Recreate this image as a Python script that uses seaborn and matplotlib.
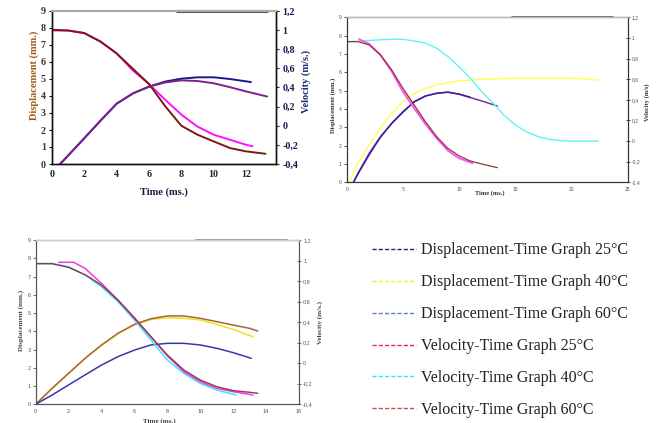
import matplotlib
matplotlib.use("Agg")
import matplotlib.pyplot as plt
from matplotlib.lines import Line2D
import seaborn as sns

sns.set_theme(style="white")
plt.rcParams['font.family'] = ['Liberation Serif', 'DejaVu Serif']

# ---------------- data ----------------
# Panel 1 (top-left)
p1_fall_mag_t = [0, 1, 2, 3, 4, 5, 6, 7, 8, 9, 10, 11, 12, 12.4]
p1_fall_mag_v = [0.996, 0.996, 0.969, 0.88, 0.756, 0.578, 0.436, 0.272, 0.116, -0.009, -0.094, -0.146, -0.199, -0.215]
p1_fall_brn_t = [0, 1, 2, 3, 4, 5, 6, 7, 8, 9, 10, 11, 12, 13.2]
p1_fall_brn_v = [1.004, 0.996, 0.969, 0.88, 0.756, 0.596, 0.436, 0.204, 0.0, -0.094, -0.164, -0.233, -0.268, -0.293]
p1_rise_pur_t = [0.5, 1, 2, 3, 4, 5, 6, 7, 8, 9, 10, 11, 12, 13.3]
p1_rise_pur_d = [0, 0.5, 1.52, 2.55, 3.55, 4.15, 4.55, 4.8, 4.92, 4.88, 4.75, 4.52, 4.27, 3.97]
p1_rise_nav_t = [0.5, 1, 2, 3, 4, 5, 6, 7, 8, 9, 10, 11, 12.3]
p1_rise_nav_d = [0, 0.5, 1.52, 2.55, 3.55, 4.15, 4.55, 4.85, 5.02, 5.1, 5.1, 5.0, 4.82]

# Panel 2 (top-right)
p2_cyan_t = [0, 1, 2, 3, 4, 4.5, 5, 6, 7, 8, 9, 10, 11, 12, 13, 14, 15, 16, 17, 18, 19, 20, 21, 22.4]
p2_cyan_v = [0.964, 0.968, 0.975, 0.982, 0.987, 0.988, 0.987, 0.97, 0.95, 0.90, 0.82, 0.72, 0.61, 0.48,
             0.37, 0.25, 0.156, 0.09, 0.043, 0.017, 0.004, 0.0, 0.0, 0.0]
p2_yel_t = [0.2, 1, 2, 3, 4, 5, 6, 7, 8, 9, 10, 12, 15, 18, 20, 21, 22.4]
p2_yel_d = [0, 1.04, 2.04, 2.95, 3.76, 4.4, 4.85, 5.13, 5.31, 5.44, 5.53, 5.62, 5.67, 5.69, 5.67, 5.64, 5.58]
p2_brn_t = [0, 1, 2, 3, 4, 5, 6, 7, 8, 9, 10, 11, 12, 13.4]
p2_brn_v = [0.964, 0.964, 0.932, 0.836, 0.690, 0.512, 0.350, 0.188, 0.043, -0.071, -0.144, -0.194, -0.222, -0.258]
p2_mag_t = [1.1, 2, 3, 4, 5, 6, 7, 8, 9, 10, 11.2]
p2_mag_v = [0.987, 0.942, 0.836, 0.676, 0.48, 0.32, 0.165, 0.027, -0.092, -0.167, -0.215]
p2_pur_t = [0.6, 1, 2, 3, 4, 5, 6, 7, 8, 9, 10, 11, 12, 13.4]
p2_pur_d = [0, 0.49, 1.58, 2.49, 3.22, 3.85, 4.4, 4.71, 4.85, 4.91, 4.8, 4.62, 4.44, 4.16]
p2_nav_t = [0.6, 1, 2, 3, 4, 5, 6, 7, 8, 9, 10, 11]
p2_nav_d = [0, 0.45, 1.5, 2.45, 3.2, 3.82, 4.38, 4.7, 4.86, 4.92, 4.82, 4.64]

# Panel 3 (bottom-left)
p3_cyan_t = [0, 1, 2, 3, 4, 5, 6, 7, 8, 9, 10, 11, 12.2]
p3_cyan_v = [0.972, 0.972, 0.940, 0.859, 0.745, 0.599, 0.421, 0.226, 0.032, -0.098, -0.196, -0.261, -0.309]
p3_mar_t = [0, 1, 2, 3, 4, 5, 6, 7, 8, 9, 10, 11, 12, 13, 13.5]
p3_mar_v = [0.969, 0.969, 0.933, 0.862, 0.761, 0.615, 0.443, 0.258, 0.08, -0.066, -0.164, -0.228, -0.267, -0.283, -0.293]
p3_mag_t = [1.4, 2.3, 3, 4, 5, 6, 7, 8, 9, 10, 11, 12, 13.2]
p3_mag_v = [0.983, 0.983, 0.924, 0.777, 0.615, 0.436, 0.258, 0.071, -0.082, -0.180, -0.244, -0.277, -0.309]
p3_brn_t = [0, 1, 2, 3, 4, 5, 6, 7, 8, 9, 10, 11, 12, 13, 13.5]
p3_brn_d = [0, 0.88, 1.70, 2.52, 3.25, 3.89, 4.38, 4.69, 4.84, 4.84, 4.71, 4.53, 4.34, 4.16, 4.01]
p3_yel_t = [0, 1, 2, 3, 4, 5, 6, 7, 8, 9, 10, 11, 12, 13.2]
p3_yel_d = [0, 0.86, 1.68, 2.5, 3.22, 3.86, 4.35, 4.64, 4.74, 4.71, 4.62, 4.38, 4.1, 3.70]
p3_nav_t = [0, 1, 2, 3, 4, 5, 6, 7, 8, 9, 10, 11, 12, 13.1]
p3_nav_d = [0, 0.51, 1.06, 1.61, 2.15, 2.61, 2.97, 3.25, 3.34, 3.34, 3.25, 3.07, 2.83, 2.52]

disp_ticks = [0, 1, 2, 3, 4, 5, 6, 7, 8, 9]
vel_ticks = [-0.4, -0.2, 0, 0.2, 0.4, 0.6, 0.8, 1.0, 1.2]
vel_labels = ['-0,4', '-0,2', '0', '0,2', '0,4', '0,6', '0,8', '1', '1,2']
p1_xticks = [0, 2, 4, 6, 8, 10, 12]
p2_xticks = [0, 5, 10, 15, 20, 25]
p3_xticks = [0, 2, 4, 6, 8, 10, 12, 14, 16]

legend_labels = ['Displacement-Time Graph 25°C', 'Displacement-Time Graph 40°C',
                 'Displacement-Time Graph 60°C', 'Velocity-Time Graph 25°C',
                 'Velocity-Time Graph 40°C', 'Velocity-Time Graph 60°C']
legend_colors = ['#1c2a6a', '#f4f030', '#5a80c8', '#f0205a', '#30e8f0', '#d04848']

# ---------------- figure ----------------
fig = plt.figure(figsize=(6.62, 4.23), dpi=100)
W, H = 662, 423

def make_ax(l, r, t, b):
    return fig.add_axes([l / W, 1 - b / H, (r - l) / W, (b - t) / H])

def line(ax, x, y, c, lw):
    sns.lineplot(x=x, y=y, ax=ax, color=c, lw=lw, sort=False, legend=False, estimator=None)

# ---- Panel 1 ----
ax1 = make_ax(52, 276, 11, 164)
ax1b = ax1.twinx()
line(ax1, p1_rise_nav_t, p1_rise_nav_d, '#1a1a8c', 1.4)
line(ax1, p1_rise_pur_t, p1_rise_pur_d, '#80208c', 1.4)
line(ax1b, p1_fall_mag_t, p1_fall_mag_v, '#ff10ff', 1.4)
line(ax1b, p1_fall_brn_t, p1_fall_brn_v, '#7a1a12', 1.4)
ax1.set_xlim(0, 13.85)
ax1.set_ylim(0, 9)
ax1b.set_ylim(-0.4, 1.2)
ax1.set_xticks(p1_xticks)
ax1.set_yticks(disp_ticks)
ax1b.set_yticks(vel_ticks)
ax1b.set_yticklabels(vel_labels)
f1 = dict(family='Liberation Serif', weight='bold', size=7.2)
ax1.tick_params(axis='both', direction='out', length=2.5, width=0.8, pad=2, colors='#111111')
ax1b.tick_params(axis='y', direction='out', length=2.5, width=0.8, pad=2)
for lab in ax1.get_xticklabels():
    lab.set(**f1, color='#222233')
for lab in ax1.get_yticklabels():
    lab.set(**f1, color='#4a3020')
for lab in ax1b.get_yticklabels():
    lab.set(**f1, color='#1a1a50')
ax1.set_xlabel('Time (ms.)', family='Liberation Serif', weight='bold', size=7.5, color='#1a1a40')
ax1.set_ylabel('Displacement (mm.)', family='Liberation Serif', weight='bold', size=7.5, color='#a05a18')
ax1b.set_ylabel('Velocity (m/s.)', family='Liberation Serif', weight='bold', size=7.5, color='#1a2a70')
ax1.xaxis.set_label_coords(0.5, -0.155)
ax1.yaxis.set_label_coords(-0.06, 0.58)
ax1b.yaxis.set_label_coords(1.115, 0.54)
for a in (ax1, ax1b):
    for s in ('left', 'bottom', 'right'):
        a.spines[s].set_color('#111111')
        a.spines[s].set_linewidth(1.0)
    a.spines['top'].set_color('#aaaaaa')
    a.spines['top'].set_linewidth(1.5)
ax1b.axhline(1.2, xmin=0.56, xmax=0.96, color='#555555', lw=2.2, clip_on=False)

# ---- Panel 2 ----
ax2 = make_ax(346.7, 627.7, 17.3, 182.3)
ax2b = ax2.twinx()
line(ax2b, p2_cyan_t, p2_cyan_v, '#60f4f4', 1.0)
line(ax2, p2_yel_t, p2_yel_d, '#ffff50', 1.0)
line(ax2, p2_pur_t, p2_pur_d, '#7a30a8', 1.1)
line(ax2, p2_nav_t, p2_nav_d, '#3a2090', 1.0)
line(ax2b, p2_mag_t, p2_mag_v, '#ff50ff', 1.4)
line(ax2b, p2_brn_t, p2_brn_v, '#8c3a30', 0.9)
ax2.set_xlim(0, 25)
ax2.set_ylim(0, 9)
ax2b.set_ylim(-0.4, 1.2)
ax2.set_xticks(p2_xticks)
ax2.set_yticks(disp_ticks)
ax2b.set_yticks(vel_ticks)
ax2b.set_yticklabels(vel_labels)
f2t = dict(family='Liberation Sans', size=3.6)
ax2.tick_params(axis='both', direction='out', length=2, width=0.6, pad=1.5, colors='#333333')
ax2b.tick_params(axis='y', direction='inout', length=3, width=0.6, pad=1.5, colors='#333333')
for lab in ax2.get_xticklabels() + ax2.get_yticklabels() + ax2b.get_yticklabels():
    lab.set(**f2t)
    lab.set_color('#555555')
f2l = dict(family='Liberation Serif', weight='bold', size=4.6, color='#333333')
ax2.set_xlabel('Time (ms.)', **f2l)
ax2.set_ylabel('Displacement (mm.)', **f2l)
ax2b.set_ylabel('Velocity (m/s)', **f2l)
ax2.xaxis.set_label_coords(0.51, -0.045)
ax2.yaxis.set_label_coords(-0.037, 0.465)
ax2b.yaxis.set_label_coords(1.058, 0.485)
for a in (ax2, ax2b):
    for s in ('left', 'bottom', 'right'):
        a.spines[s].set_color('#333333')
        a.spines[s].set_linewidth(0.8)
    a.spines['top'].set_color('#bbbbbb')
    a.spines['top'].set_linewidth(1.0)
ax2b.axhline(1.2, xmin=0.588, xmax=0.948, color='#555555', lw=1.2, clip_on=False)

# ---- Panel 3 ----
ax3 = make_ax(35.7, 299, 240, 404.3)
ax3b = ax3.twinx()
line(ax3b, p3_cyan_t, p3_cyan_v, '#30ecf4', 1.1)
line(ax3b, p3_mag_t, p3_mag_v, '#ff30e8', 1.1)
line(ax3b, p3_mar_t, p3_mar_v, '#8a3848', 1.0)
line(ax3, p3_yel_t, p3_yel_d, '#f0e020', 1.1)
line(ax3, p3_brn_t, p3_brn_d, '#a8643a', 1.1)
line(ax3, p3_nav_t, p3_nav_d, '#3838a8', 1.1)
ax3.set_xlim(0, 16)
ax3.set_ylim(0, 9)
ax3b.set_ylim(-0.4, 1.2)
ax3.set_xticks(p3_xticks)
ax3.set_yticks(disp_ticks)
ax3b.set_yticks(vel_ticks)
ax3b.set_yticklabels(vel_labels)
f3t = dict(family='Liberation Sans', size=4.0)
ax3.tick_params(axis='both', direction='out', length=2, width=0.6, pad=1.5, colors='#555555')
ax3b.tick_params(axis='y', direction='inout', length=3, width=0.6, pad=1.5, colors='#555555')
for lab in ax3.get_xticklabels() + ax3.get_yticklabels() + ax3b.get_yticklabels():
    lab.set(**f3t)
    lab.set_color('#555555')
f3l = dict(family='Liberation Serif', weight='bold', size=5.0, color='#444444')
ax3.set_xlabel('Time (ms.)', **f3l)
ax3.set_ylabel('Displacement (mm.)', **f3l)
ax3b.set_ylabel('Velocity (m/s.)', **f3l)
ax3.xaxis.set_label_coords(0.47, -0.085)
ax3.yaxis.set_label_coords(-0.045, 0.508)
ax3b.yaxis.set_label_coords(1.068, 0.495)
for a in (ax3, ax3b):
    for s in ('left', 'bottom', 'right'):
        a.spines[s].set_color('#555555')
        a.spines[s].set_linewidth(0.8)
    a.spines['top'].set_color('#cccccc')
    a.spines['top'].set_linewidth(1.0)
ax3b.axhline(1.2, xmin=0.61, xmax=0.953, color='#888888', lw=1.2, clip_on=False)

# ---- Legend ----
handles = [Line2D([0], [0], color=c, lw=1.0, linestyle=(0, (3, 1.5))) for c in legend_colors]
fig.legend(handles, legend_labels, loc='upper left', bbox_to_anchor=(369 / W, 1 - 239 / H),
           frameon=False, prop={'family': 'Liberation Serif', 'size': 11.5},
           handlelength=2.75, handletextpad=0.3, labelspacing=1.0, borderaxespad=0,
           borderpad=0.2, labelcolor='#222222')

fig.savefig('out.png', dpi=100)
